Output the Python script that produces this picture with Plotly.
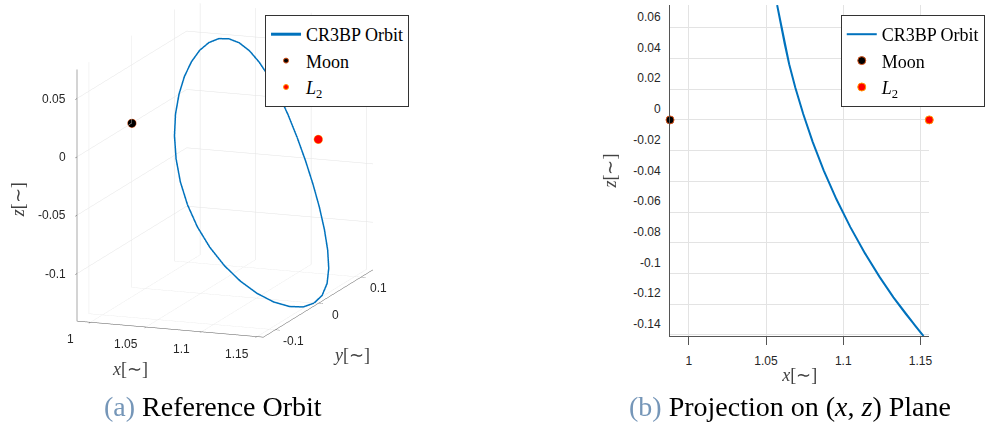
import plotly.graph_objects as go

# ---- data (non-dimensional CR3BP units), orbit sampled every 10 deg of phase ----
orbit_x = [1.1520, 1.1507, 1.1468, 1.1405, 1.1325, 1.1235, 1.1141, 1.1046, 1.0956, 1.0874,
           1.0802, 1.0741, 1.0690, 1.0650, 1.0621, 1.0599, 1.0584, 1.0575, 1.0572,
           1.0575, 1.0584, 1.0599, 1.0621, 1.0650, 1.0690, 1.0741, 1.0802, 1.0874,
           1.0956, 1.1046, 1.1141, 1.1235, 1.1325, 1.1405, 1.1468, 1.1507, 1.1520]
orbit_y = [0.0, 0.0222, 0.0438, 0.0640, 0.0823, 0.0980, 0.1108, 0.1203, 0.1261, 0.1280,
           0.1261, 0.1203, 0.1108, 0.0980, 0.0823, 0.0640, 0.0438, 0.0222, 0.0,
           -0.0222, -0.0438, -0.0640, -0.0823, -0.0980, -0.1108, -0.1203, -0.1261, -0.1280,
           -0.1261, -0.1203, -0.1108, -0.0980, -0.0823, -0.0640, -0.0438, -0.0222, 0.0]
orbit_z = [-0.1407, -0.1391, -0.1342, -0.1263, -0.1155, -0.1022, -0.0869, -0.0698, -0.0517, -0.0330,
           -0.0143, 0.0038, 0.0209, 0.0362, 0.0495, 0.0603, 0.0682, 0.0731, 0.0747,
           0.0731, 0.0682, 0.0603, 0.0495, 0.0362, 0.0209, 0.0038, -0.0143, -0.0330,
           -0.0517, -0.0698, -0.0869, -0.1022, -0.1155, -0.1263, -0.1342, -0.1391, -0.1407]

moon_x, moon_y, moon_z = [0.98785], [0.0], [0.0]
l2_x, l2_y, l2_z = [1.1557], [0.0], [0.0]

x_ticks = [1.0, 1.05, 1.1, 1.15]
x_ticktext = ["1", "1.05", "1.1", "1.15"]
y3_ticks = [-0.1, 0.0, 0.1]
y3_ticktext = ["-0.1", "0", "0.1"]
z3_ticks = [-0.1, -0.05, 0.0, 0.05]
z3_ticktext = ["-0.1", "-0.05", "0", "0.05"]
z2_ticks = [0.06, 0.04, 0.02, 0.0, -0.02, -0.04, -0.06, -0.08, -0.1, -0.12, -0.14]
z2_ticktext = ["0.06", "0.04", "0.02", "0", "-0.02", "-0.04", "-0.06", "-0.08", "-0.1", "-0.12", "-0.14"]

x_range = [0.98785, 1.1557]
y_range = [-0.128, 0.128]
z_range = [-0.1407, 0.0748]

BLUE = "#0072BD"
SERIF = "Liberation Serif"
SANS = "Liberation Sans"
TXT = "#262626"
GRID = "#e3e3e3"
AXL = "#555555"

fig = go.Figure()

# ---- 3D panel ----
fig.add_trace(go.Scatter3d(x=orbit_x, y=orbit_y, z=orbit_z, mode="lines",
                           line=dict(color=BLUE, width=3), name="CR3BP Orbit",
                           scene="scene", legend="legend"))
fig.add_trace(go.Scatter3d(x=moon_x, y=moon_y, z=moon_z, mode="markers",
                           marker=dict(color="black", size=5, line=dict(color="#D95319", width=1)),
                           name="Moon", scene="scene", legend="legend"))
fig.add_trace(go.Scatter3d(x=l2_x, y=l2_y, z=l2_z, mode="markers",
                           marker=dict(color="#FF0000", size=5, line=dict(color="#FF9900", width=1)),
                           name="<i>L</i><sub>2</sub>", scene="scene", legend="legend"))

# ---- 2D panel ----
fig.add_trace(go.Scatter(x=orbit_x, y=orbit_z, mode="lines", line=dict(color=BLUE, width=2),
                         name="CR3BP Orbit", xaxis="x", yaxis="y", legend="legend2"))
fig.add_trace(go.Scatter(x=moon_x, y=moon_z, mode="markers", cliponaxis=False,
                         marker=dict(color="black", size=8, line=dict(color="#D95319", width=1)),
                         name="Moon", xaxis="x", yaxis="y", legend="legend2"))
fig.add_trace(go.Scatter(x=l2_x, y=l2_z, mode="markers", cliponaxis=False,
                         marker=dict(color="#FF0000", size=8, line=dict(color="#FF9900", width=1)),
                         name="<i>L</i><sub>2</sub>", xaxis="x", yaxis="y", legend="legend2"))

def ax3(rng, tv):
    return dict(range=rng, tickvals=tv, autorange=False, showticklabels=False,
                title=dict(text=""),
                showbackground=False, gridcolor=GRID, gridwidth=1,
                showline=True, linecolor=AXL, linewidth=1,
                ticks="outside", ticklen=5, tickcolor=AXL,
                zeroline=False, showspikes=False)

# horizontal (MATLAB-like) 3D tick labels and axis titles, anchored in scene data coordinates
tickfont = dict(family=SANS, size=12, color=TXT)
titlefont = dict(family=SERIF, size=18, color="#404040")
scene_ann = []
for v, t in zip(x_ticks, x_ticktext):
    scene_ann.append(dict(x=v, y=y_range[0], z=z_range[0], text=t, showarrow=False,
                          xshift=-20, yshift=-17, font=tickfont))
for v, t in zip(y3_ticks, y3_ticktext):
    scene_ann.append(dict(x=x_range[1], y=v, z=z_range[0], text=t, showarrow=False,
                          xshift=18, yshift=-11, font=tickfont))
for v, t in zip(z3_ticks, z3_ticktext):
    scene_ann.append(dict(x=x_range[0], y=y_range[0], z=v, text=t, showarrow=False,
                          xanchor="right", xshift=-9, font=tickfont))
scene_ann.append(dict(x=sum(x_range) / 2, y=y_range[0], z=z_range[0], text="<i>x</i>[∼]",
                      showarrow=False, xshift=-40, yshift=-40, font=titlefont))
scene_ann.append(dict(x=x_range[1], y=sum(y_range) / 2, z=z_range[0], text="<i>y</i>[∼]",
                      showarrow=False, xshift=34, yshift=-51, font=titlefont))
scene_ann.append(dict(x=x_range[0], y=y_range[0], z=sum(z_range) / 2, text="<i>z</i>[∼]",
                      showarrow=False, xshift=-59, yshift=-4, textangle=-90, font=titlefont))

d = 2.0
k = 1.3256
fig.update_layout(
    template="none",
    width=999, height=424,
    margin=dict(l=0, r=0, t=0, b=0, autoexpand=False),
    paper_bgcolor="white", plot_bgcolor="white",
    font=dict(family=SANS, color=TXT),
    scene=dict(
        domain=dict(x=[0.0, 0.45], y=[0.08, 1.0]),
        bgcolor="rgba(0,0,0,0)",
        xaxis=ax3(x_range, x_ticks),
        yaxis=ax3(y_range, y3_ticks),
        zaxis=ax3(z_range, z3_ticks),
        aspectmode="manual",
        aspectratio=dict(x=0.77 * k, y=1.21 * k, z=1.0 * k),
        camera=dict(eye=dict(x=0.341 * d, y=-0.911 * d, z=0.23 * d - 0.1336),
                    up=dict(x=0, y=0, z=1), center=dict(x=0, y=0, z=-0.1336),
                    projection=dict(type="orthographic")),
        annotations=scene_ann,
    ),
    xaxis=dict(domain=[0.6707, 0.9302], range=x_range, anchor="y", automargin=False,
               tickvals=x_ticks, ticktext=x_ticktext,
               showgrid=True, gridcolor=GRID, showline=True, linecolor=AXL, linewidth=1,
               ticks="outside", ticklen=8, tickcolor=AXL, zeroline=False,
               ticklabelstandoff=6, tickfont=tickfont,
               title=dict(text="<i>x</i>[∼]", font=titlefont, standoff=0)),
    yaxis=dict(domain=[0.2075, 0.9882], range=z_range, anchor="x", automargin=False,
               tickvals=z2_ticks, ticktext=z2_ticktext,
               showgrid=True, gridcolor=GRID, showline=True, linecolor=AXL, linewidth=1,
               ticks="", zeroline=False, ticklabelshift=-11, ticklabelstandoff=6,
               tickfont=tickfont,
               title=dict(text="<i>z</i>[∼]", font=titlefont, standoff=12)),
    legend=dict(x=0.2653, y=0.9646, xanchor="left", yanchor="top",
                bgcolor="white", bordercolor="#333333", borderwidth=1,
                font=dict(family=SERIF, size=18, color="black"), tracegroupgap=0),
    legend2=dict(x=0.8416, y=0.9646, xanchor="left", yanchor="top",
                 bgcolor="white", bordercolor="#333333", borderwidth=1,
                 font=dict(family=SERIF, size=18, color="black"), tracegroupgap=0),
    showlegend=True,
)

fig.add_annotation(x=0.2137, y=0.041, xref="paper", yref="paper", showarrow=False,
                   xanchor="center", yanchor="middle",
                   text="<span style='color:#7596b8'>(a)</span> Reference Orbit",
                   font=dict(family=SERIF, size=28, color="black"))
fig.add_annotation(x=0.7908, y=0.041, xref="paper", yref="paper", showarrow=False,
                   xanchor="center", yanchor="middle",
                   text="<span style='color:#7596b8'>(b)</span> Projection on (<i>x</i>, <i>z</i>) Plane",
                   font=dict(family=SERIF, size=28, color="black"))

fig.write_html("out.html")
